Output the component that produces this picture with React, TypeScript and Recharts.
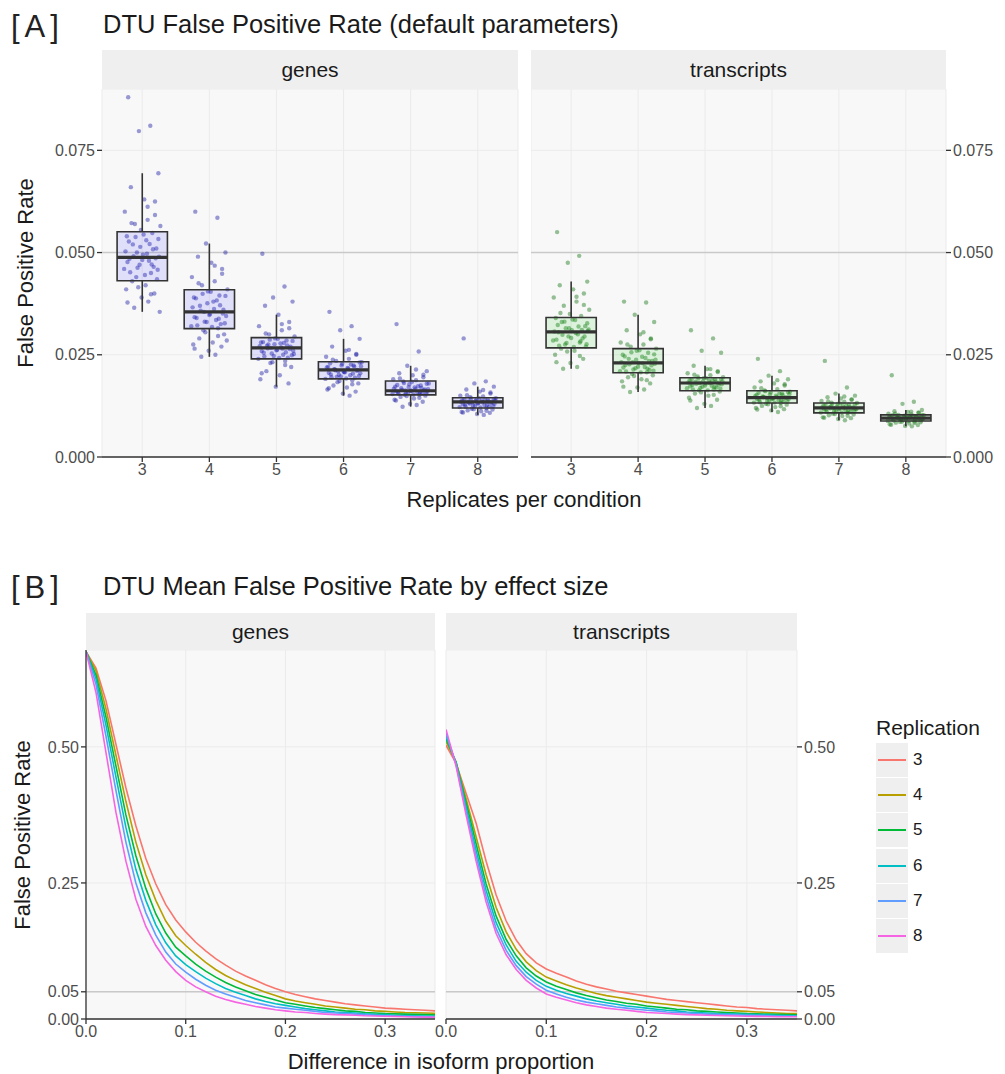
import React from "react";
import {
  ComposedChart,
  XAxis,
  YAxis,
  CartesianGrid,
  Scatter,
  ReferenceArea,
  ReferenceLine,
  Line,
} from "recharts";

const REPS = [3, 4, 5, 6, 7, 8];
const COLORS = ["#F8766D", "#B79F00", "#00BA38", "#00BFC4", "#619CFF", "#F564E3"];

// panel A box stats: [lower whisker, q1, median, q3, upper whisker]
const GENE_BOXES = [
  [0.0355, 0.0431, 0.0488, 0.0551, 0.0694],
  [0.0245, 0.0314, 0.0355, 0.0409, 0.0522],
  [0.0172, 0.024, 0.0267, 0.0292, 0.0348],
  [0.015, 0.0191, 0.0213, 0.0233, 0.0289],
  [0.0123, 0.0152, 0.0162, 0.0186, 0.0223],
  [0.0103, 0.012, 0.0135, 0.0145, 0.0172],
];
const TX_BOXES = [
  [0.0216, 0.0267, 0.0306, 0.0341, 0.0429],
  [0.0159, 0.0206, 0.023, 0.0265, 0.0348],
  [0.012, 0.0162, 0.0181, 0.0194, 0.0223],
  [0.011, 0.0132, 0.0145, 0.0162, 0.0199],
  [0.009, 0.0108, 0.012, 0.0132, 0.0155],
  [0.0075, 0.0088, 0.0095, 0.0103, 0.0115],
];

// horizontal jitter (in replicate units), one per point of a group
const JITTER = [
  -0.21, 0.12, -0.05, 0.24, -0.17, 0.03, 0.19, -0.26, 0.08, -0.11, 0.27, -0.02,
  0.15, -0.23, 0.06, -0.14, 0.21, -0.08, 0.01, 0.25, -0.19, 0.1, -0.04, 0.17,
  -0.27, 0.13, -0.09, 0.22, -0.15, 0.05, -0.24, 0.18, -0.01, 0.09, -0.12, 0.26,
  0.04, -0.18, 0.23, -0.07, 0.14, -0.22, 0.0, 0.2, -0.13, 0.07, -0.25, 0.16,
  -0.03, 0.11, -0.2, 0.24, -0.1, 0.02, -0.16, 0.19, -0.06, 0.13, -0.22, 0.08,
];

const GENE_POINTS = [
  [0.088, 0.081, 0.0797, 0.0694, 0.066, 0.063, 0.0625, 0.06, 0.058, 0.057, 0.0565, 0.0555, 0.0548, 0.054, 0.053, 0.052, 0.051, 0.05, 0.0495, 0.049, 0.0485, 0.048, 0.047, 0.0465, 0.046, 0.045, 0.044, 0.0435, 0.043, 0.042, 0.041, 0.04, 0.039, 0.038, 0.0365, 0.0355,
    0.0445, 0.0452, 0.0458, 0.0463, 0.0471, 0.0477, 0.0482, 0.0486, 0.0491, 0.0497, 0.0503, 0.0508, 0.0514, 0.0521, 0.0527, 0.0533, 0.0538, 0.0544, 0.0572, 0.0592, 0.0415, 0.0398, 0.0378, 0.0612],
  [0.06, 0.0585, 0.0522, 0.05, 0.049, 0.0475, 0.046, 0.044, 0.043, 0.042, 0.041, 0.0405, 0.0395, 0.039, 0.038, 0.037, 0.036, 0.0355, 0.035, 0.0345, 0.034, 0.0335, 0.033, 0.0325, 0.032, 0.0315, 0.031, 0.03, 0.029, 0.028, 0.0275, 0.027, 0.026, 0.025, 0.0245, 0.0285,
    0.0318, 0.0322, 0.0327, 0.0331, 0.0338, 0.0342, 0.0347, 0.0351, 0.0358, 0.0362, 0.0366, 0.0371, 0.0376, 0.0383, 0.0388, 0.0394, 0.0399, 0.0404, 0.0425, 0.0448, 0.0305, 0.0296, 0.0265, 0.0468],
  [0.0497, 0.0417, 0.039, 0.038, 0.037, 0.0348, 0.033, 0.032, 0.031, 0.03, 0.0295, 0.029, 0.0285, 0.028, 0.0278, 0.0272, 0.027, 0.0267, 0.0262, 0.026, 0.0255, 0.025, 0.0247, 0.0243, 0.024, 0.0235, 0.023, 0.022, 0.021, 0.02, 0.019, 0.018, 0.0172, 0.0265, 0.0275, 0.0252,
    0.0242, 0.0246, 0.0249, 0.0253, 0.0256, 0.0259, 0.0261, 0.0264, 0.0266, 0.0268, 0.0271, 0.0273, 0.0276, 0.0279, 0.0281, 0.0284, 0.0287, 0.0289, 0.0302, 0.0315, 0.0232, 0.0225, 0.0205, 0.0325],
  [0.0355, 0.032, 0.031, 0.0289, 0.027, 0.026, 0.025, 0.0245, 0.024, 0.0235, 0.0232, 0.0228, 0.0224, 0.022, 0.0218, 0.0215, 0.0213, 0.021, 0.0208, 0.0205, 0.0202, 0.02, 0.0197, 0.0194, 0.0191, 0.0188, 0.0183, 0.018, 0.0175, 0.017, 0.0165, 0.016, 0.0155, 0.015, 0.0212, 0.0222,
    0.0192, 0.0195, 0.0198, 0.0201, 0.0204, 0.0206, 0.0209, 0.0211, 0.0214, 0.0216, 0.0219, 0.0221, 0.0224, 0.0226, 0.0229, 0.0231, 0.0196, 0.0207, 0.0238, 0.0252, 0.0186, 0.0178, 0.0168, 0.0262],
  [0.0325, 0.0258, 0.0223, 0.021, 0.0205, 0.02, 0.0195, 0.019, 0.0188, 0.0185, 0.018, 0.0178, 0.0175, 0.0172, 0.017, 0.0168, 0.0165, 0.0163, 0.0162, 0.016, 0.0159, 0.0158, 0.0157, 0.0155, 0.0154, 0.0153, 0.0152, 0.015, 0.0147, 0.0143, 0.014, 0.0135, 0.013, 0.0127, 0.0123, 0.0166,
    0.0153, 0.0155, 0.0156, 0.0158, 0.0159, 0.0161, 0.0162, 0.0163, 0.0164, 0.0166, 0.0167, 0.0169, 0.0171, 0.0173, 0.0176, 0.0179, 0.0181, 0.0184, 0.0192, 0.0201, 0.0149, 0.0145, 0.0138, 0.0214],
  [0.029, 0.0185, 0.018, 0.0172, 0.0165, 0.016, 0.0155, 0.015, 0.0148, 0.0146, 0.0144, 0.0142, 0.014, 0.0138, 0.0137, 0.0136, 0.0135, 0.0134, 0.0132, 0.013, 0.0128, 0.0127, 0.0125, 0.0123, 0.0122, 0.012, 0.0118, 0.0116, 0.0114, 0.0112, 0.011, 0.0108, 0.0105, 0.0103, 0.0131, 0.0139,
    0.0121, 0.0123, 0.0124, 0.0126, 0.0128, 0.0129, 0.0131, 0.0132, 0.0133, 0.0134, 0.0135, 0.0136, 0.0137, 0.0139, 0.0141, 0.0142, 0.0143, 0.0144, 0.0151, 0.0158, 0.0117, 0.0113, 0.0109, 0.0164],
];
const TX_POINTS = [
  [0.055, 0.0492, 0.0475, 0.0429, 0.042, 0.041, 0.04, 0.039, 0.038, 0.037, 0.036, 0.035, 0.0345, 0.034, 0.0335, 0.033, 0.032, 0.0315, 0.031, 0.0308, 0.0305, 0.03, 0.0295, 0.029, 0.0285, 0.028, 0.0275, 0.027, 0.0265, 0.026, 0.025, 0.024, 0.023, 0.022, 0.0216, 0.0312,
    0.0269, 0.0272, 0.0276, 0.0279, 0.0283, 0.0287, 0.0291, 0.0295, 0.0299, 0.0303, 0.0307, 0.0311, 0.0315, 0.0319, 0.0323, 0.0327, 0.0331, 0.0336, 0.0352, 0.0372, 0.0258, 0.0247, 0.0232, 0.0392],
  [0.038, 0.0378, 0.0348, 0.033, 0.031, 0.03, 0.029, 0.028, 0.0275, 0.027, 0.0265, 0.026, 0.0255, 0.025, 0.0245, 0.024, 0.0235, 0.0232, 0.023, 0.0228, 0.0225, 0.022, 0.0217, 0.0213, 0.021, 0.0207, 0.0203, 0.02, 0.0195, 0.019, 0.0185, 0.018, 0.017, 0.0165, 0.0159, 0.0238,
    0.0207, 0.0209, 0.0211, 0.0214, 0.0216, 0.0219, 0.0221, 0.0224, 0.0227, 0.0229, 0.0232, 0.0235, 0.0238, 0.0242, 0.0246, 0.0251, 0.0256, 0.0261, 0.0275, 0.0288, 0.0198, 0.0188, 0.0172, 0.0305],
  [0.031, 0.029, 0.026, 0.0255, 0.0223, 0.0215, 0.021, 0.0205, 0.02, 0.0197, 0.0195, 0.0193, 0.019, 0.0188, 0.0186, 0.0184, 0.0182, 0.0181, 0.018, 0.0178, 0.0176, 0.0174, 0.0172, 0.017, 0.0168, 0.0165, 0.0163, 0.016, 0.0155, 0.015, 0.0145, 0.014, 0.013, 0.0125, 0.012, 0.0185,
    0.0163, 0.0165, 0.0167, 0.0169, 0.0171, 0.0173, 0.0175, 0.0177, 0.0179, 0.0181, 0.0182, 0.0184, 0.0185, 0.0187, 0.0189, 0.0191, 0.0192, 0.0193, 0.0201, 0.0208, 0.0158, 0.0152, 0.0138, 0.0215],
  [0.024, 0.021, 0.0199, 0.019, 0.0185, 0.018, 0.0175, 0.017, 0.0166, 0.0163, 0.016, 0.0158, 0.0155, 0.0152, 0.015, 0.0148, 0.0146, 0.0145, 0.0144, 0.0142, 0.014, 0.0139, 0.0137, 0.0135, 0.0133, 0.0132, 0.013, 0.0128, 0.0125, 0.0122, 0.012, 0.0117, 0.0114, 0.011, 0.0147, 0.0153,
    0.0133, 0.0134, 0.0136, 0.0137, 0.0139, 0.0141, 0.0142, 0.0144, 0.0146, 0.0147, 0.0149, 0.0151, 0.0153, 0.0155, 0.0157, 0.0159, 0.0161, 0.0143, 0.0168, 0.0178, 0.0129, 0.0124, 0.0116, 0.0188],
  [0.0235, 0.017, 0.0155, 0.015, 0.0146, 0.0143, 0.014, 0.0137, 0.0135, 0.0133, 0.0132, 0.013, 0.0128, 0.0126, 0.0124, 0.0122, 0.0121, 0.012, 0.0119, 0.0118, 0.0116, 0.0114, 0.0112, 0.011, 0.0109, 0.0108, 0.0106, 0.0104, 0.0102, 0.01, 0.0097, 0.0095, 0.0093, 0.009, 0.0123, 0.0117,
    0.0109, 0.011, 0.0111, 0.0113, 0.0115, 0.0116, 0.0117, 0.0118, 0.0119, 0.012, 0.0121, 0.0122, 0.0123, 0.0125, 0.0127, 0.0129, 0.013, 0.0131, 0.0136, 0.0141, 0.0105, 0.0101, 0.0096, 0.0148],
  [0.02, 0.0135, 0.013, 0.0115, 0.0112, 0.011, 0.0108, 0.0106, 0.0104, 0.0103, 0.0102, 0.0101, 0.01, 0.0099, 0.0098, 0.0097, 0.0096, 0.0095, 0.0094, 0.0093, 0.0092, 0.0091, 0.009, 0.0089, 0.0088, 0.0087, 0.0086, 0.0085, 0.0084, 0.0082, 0.008, 0.0078, 0.0076, 0.0075, 0.0096, 0.0094,
    0.0088, 0.0089, 0.009, 0.0091, 0.0092, 0.0093, 0.0094, 0.0095, 0.0096, 0.0097, 0.0098, 0.0099, 0.01, 0.0101, 0.0102, 0.0103, 0.0094, 0.0097, 0.0106, 0.0109, 0.0086, 0.0083, 0.0079, 0.0111],
];

// panel B: mean FPR vs difference in isoform proportion
const DIFF = [
  0, 0.01, 0.02, 0.03, 0.04, 0.05, 0.06, 0.07, 0.08, 0.09, 0.1, 0.11, 0.12, 0.13,
  0.14, 0.15, 0.16, 0.17, 0.18, 0.19, 0.2, 0.21, 0.22, 0.23, 0.24, 0.25, 0.26,
  0.27, 0.28, 0.29, 0.3, 0.31, 0.32, 0.33, 0.34, 0.35,
];
const GENE_CURVES = [
  [0.675, 0.645, 0.585, 0.505, 0.425, 0.355, 0.295, 0.248, 0.21, 0.182, 0.16, 0.141, 0.125, 0.111, 0.099, 0.088, 0.079, 0.071, 0.063, 0.056, 0.05, 0.045, 0.041, 0.037, 0.034, 0.031, 0.028, 0.026, 0.024, 0.022, 0.02, 0.019, 0.018, 0.017, 0.016, 0.015],
  [0.675, 0.64, 0.57, 0.485, 0.4, 0.325, 0.265, 0.218, 0.18, 0.153, 0.135, 0.119, 0.104, 0.091, 0.08, 0.071, 0.063, 0.056, 0.049, 0.043, 0.037, 0.033, 0.03, 0.027, 0.024, 0.022, 0.02, 0.018, 0.017, 0.015, 0.014, 0.013, 0.012, 0.0115, 0.011, 0.0105],
  [0.675, 0.632, 0.555, 0.465, 0.375, 0.3, 0.24, 0.193, 0.158, 0.132, 0.116, 0.101, 0.088, 0.077, 0.067, 0.059, 0.052, 0.045, 0.04, 0.035, 0.03, 0.027, 0.024, 0.021, 0.019, 0.017, 0.015, 0.014, 0.012, 0.011, 0.01, 0.0095, 0.009, 0.0085, 0.008, 0.0075],
  [0.675, 0.625, 0.54, 0.445, 0.352, 0.275, 0.218, 0.173, 0.14, 0.116, 0.1, 0.087, 0.075, 0.065, 0.056, 0.049, 0.043, 0.037, 0.032, 0.028, 0.025, 0.022, 0.019, 0.017, 0.015, 0.013, 0.012, 0.011, 0.0095, 0.0085, 0.008, 0.007, 0.0065, 0.006, 0.0055, 0.005],
  [0.675, 0.615, 0.52, 0.42, 0.325, 0.25, 0.195, 0.154, 0.123, 0.101, 0.086, 0.073, 0.062, 0.053, 0.046, 0.04, 0.034, 0.03, 0.026, 0.022, 0.02, 0.018, 0.016, 0.014, 0.012, 0.011, 0.01, 0.009, 0.008, 0.007, 0.006, 0.0055, 0.005, 0.0045, 0.004, 0.004],
  [0.675, 0.6, 0.49, 0.38, 0.29, 0.22, 0.17, 0.135, 0.108, 0.087, 0.071, 0.059, 0.05, 0.042, 0.036, 0.031, 0.027, 0.023, 0.02, 0.017, 0.015, 0.013, 0.012, 0.01, 0.009, 0.008, 0.0075, 0.007, 0.006, 0.0055, 0.005, 0.0045, 0.004, 0.0037, 0.0034, 0.003],
];
const TX_CURVES = [
  [0.503, 0.47, 0.415, 0.36, 0.29, 0.228, 0.18, 0.145, 0.12, 0.103, 0.092, 0.084, 0.077, 0.07, 0.064, 0.059, 0.055, 0.051, 0.048, 0.045, 0.042, 0.039, 0.036, 0.034, 0.032, 0.03, 0.028, 0.026, 0.024, 0.022, 0.021, 0.019, 0.018, 0.017, 0.016, 0.015],
  [0.51, 0.472, 0.405, 0.335, 0.265, 0.205, 0.16, 0.128, 0.105, 0.089, 0.077, 0.07, 0.063, 0.057, 0.052, 0.047, 0.043, 0.04, 0.037, 0.034, 0.031, 0.029, 0.027, 0.025, 0.023, 0.021, 0.019, 0.018, 0.016, 0.015, 0.014, 0.013, 0.012, 0.011, 0.01, 0.01],
  [0.515, 0.472, 0.398, 0.322, 0.248, 0.189, 0.146, 0.116, 0.094, 0.079, 0.068, 0.06, 0.054, 0.048, 0.043, 0.039, 0.035, 0.032, 0.029, 0.027, 0.024, 0.022, 0.02, 0.018, 0.017, 0.015, 0.014, 0.013, 0.012, 0.011, 0.01, 0.0095, 0.009, 0.0085, 0.008, 0.0075],
  [0.52, 0.47, 0.39, 0.31, 0.236, 0.177, 0.136, 0.106, 0.086, 0.071, 0.06, 0.053, 0.047, 0.042, 0.037, 0.033, 0.03, 0.027, 0.024, 0.022, 0.02, 0.018, 0.016, 0.015, 0.013, 0.012, 0.011, 0.01, 0.0095, 0.009, 0.0085, 0.008, 0.0075, 0.007, 0.0065, 0.006],
  [0.525, 0.468, 0.382, 0.3, 0.225, 0.166, 0.126, 0.098, 0.078, 0.064, 0.053, 0.046, 0.04, 0.035, 0.031, 0.028, 0.025, 0.022, 0.02, 0.018, 0.016, 0.015, 0.013, 0.012, 0.011, 0.01, 0.009, 0.0085, 0.008, 0.0075, 0.007, 0.0065, 0.006, 0.0055, 0.005, 0.005],
  [0.532, 0.465, 0.375, 0.29, 0.215, 0.157, 0.118, 0.091, 0.071, 0.057, 0.046, 0.04, 0.035, 0.03, 0.026, 0.023, 0.02, 0.018, 0.016, 0.014, 0.012, 0.011, 0.01, 0.009, 0.008, 0.0075, 0.007, 0.0065, 0.006, 0.0055, 0.005, 0.0048, 0.0045, 0.0042, 0.004, 0.004],
];

const FONT = "'Liberation Sans', Arial, Helvetica, sans-serif";
const TICK = { fill: "#4d4d4d", fontSize: 16, fontFamily: FONT };
const AXIS = { stroke: "#333", strokeWidth: 1.3 };
const BOX_HALF = 0.375;
const PAD = 16; // extra room so edge tick labels are not clipped

function BoxPanel({ boxes, points, fill, dot, side, left }) {
  const isLeft = side === "left";
  const scatter = points.flatMap((vals, i) =>
    vals.map((v, j) => ({ x: REPS[i] + JITTER[j % JITTER.length], y: v }))
  );
  return (
    <div style={{ position: "absolute", left, top: 89 }}>
      <ComposedChart
        width={isLeft ? 520 : 474}
        height={398}
        margin={{ top: 0, right: isLeft ? 2 : 0, bottom: 0, left: 0 }}
      >
        <CartesianGrid fill="#f8f8f8" stroke="#ebebeb" strokeWidth={1} />
        <XAxis
          type="number"
          dataKey="x"
          domain={[2.4, 8.6]}
          ticks={REPS}
          interval={0}
          allowDataOverflow
          height={30}
          tick={TICK}
          tickSize={5}
          tickLine={AXIS}
          axisLine={AXIS}
        />
        <YAxis
          type="number"
          dataKey="y"
          orientation={side}
          domain={[0, 0.09]}
          ticks={[0, 0.025, 0.05, 0.075]}
          allowDataOverflow
          width={isLeft ? 102 : 59}
          tick={TICK}
          tickSize={5}
          tickLine={AXIS}
          axisLine={false}
          tickFormatter={(v) => v.toFixed(3)}
        />
        <ReferenceLine y={0.05} stroke="#c9c9c9" strokeWidth={1.4} />
        <Scatter
          data={scatter}
          isAnimationActive={false}
          shape={(p) => (
            <circle cx={p.cx} cy={p.cy} r={2.2} fill={dot} fillOpacity={0.42} />
          )}
        />
        {boxes.map(([lo, q1, med, q3, hi], i) => (
          <ReferenceArea
            key={"a" + i}
            x1={REPS[i] - BOX_HALF}
            x2={REPS[i] + BOX_HALF}
            y1={q1}
            y2={q3}
            fill={fill}
            fillOpacity={0.13}
            stroke="#333"
            strokeWidth={1.6}
            zIndex={700}
          />
        ))}
        {boxes.map(([lo, q1, med, q3, hi], i) => (
          <ReferenceLine
            key={"w1" + i}
            segment={[{ x: REPS[i], y: lo }, { x: REPS[i], y: q1 }]}
            stroke="#333"
            strokeWidth={1.6}
            zIndex={700}
          />
        ))}
        {boxes.map(([lo, q1, med, q3, hi], i) => (
          <ReferenceLine
            key={"w2" + i}
            segment={[{ x: REPS[i], y: q3 }, { x: REPS[i], y: hi }]}
            stroke="#333"
            strokeWidth={1.6}
            zIndex={700}
          />
        ))}
        {boxes.map(([lo, q1, med, q3, hi], i) => (
          <ReferenceLine
            key={"m" + i}
            segment={[{ x: REPS[i] - BOX_HALF, y: med }, { x: REPS[i] + BOX_HALF, y: med }]}
            stroke="#333"
            strokeWidth={3.2}
            zIndex={700}
          />
        ))}
      </ComposedChart>
    </div>
  );
}

function LinePanel({ curves, side, left }) {
  const isLeft = side === "left";
  const rows = DIFF.map((x, i) => {
    const row = { x };
    REPS.forEach((r, k) => (row["r" + r] = curves[k][i]));
    return row;
  });
  return (
    <div style={{ position: "absolute", left: isLeft ? left : left - PAD, top: 650 }}>
      <ComposedChart
        width={isLeft ? 437 : 411 + PAD}
        height={399}
        data={rows}
        margin={{ top: 0, right: isLeft ? 2 : 0, bottom: 0, left: isLeft ? 0 : PAD }}
      >
        <CartesianGrid fill="#f8f8f8" stroke="#ebebeb" strokeWidth={1} />
        <XAxis
          type="number"
          dataKey="x"
          domain={[0, 0.35]}
          ticks={[0, 0.1, 0.2, 0.3]}
          interval={0}
          allowDataOverflow
          height={30}
          tick={TICK}
          tickSize={5}
          tickLine={AXIS}
          axisLine={AXIS}
          tickFormatter={(v) => v.toFixed(1)}
        />
        <YAxis
          type="number"
          orientation={side}
          domain={[0, 0.678]}
          ticks={[0, 0.05, 0.25, 0.5]}
          allowDataOverflow
          width={isLeft ? 86 : 60}
          tick={TICK}
          tickSize={5}
          tickLine={AXIS}
          axisLine={isLeft ? AXIS : false}
          tickFormatter={(v) => v.toFixed(2)}
        />
        <ReferenceLine y={0.05} stroke="#c9c9c9" strokeWidth={1.4} />
        {REPS.map((r, k) => (
          <Line
            key={r}
            type="linear"
            dataKey={"r" + r}
            stroke={COLORS[k]}
            strokeWidth={1.6}
            dot={false}
            isAnimationActive={false}
          />
        ))}
      </ComposedChart>
    </div>
  );
}

function Strip({ left, top, width, height, label }) {
  return (
    <div
      style={{
        position: "absolute",
        left,
        top,
        width,
        height,
        background: "#efefef",
        color: "#1a1a1a",
        fontSize: 21,
        display: "flex",
        alignItems: "center",
        justifyContent: "center",
      }}
    >
      {label}
    </div>
  );
}

function Text({ x, y, size, children, rotate, anchor = "left", color = "#1a1a1a", spacing = 0 }) {
  const tx = anchor === "center" ? "-50%" : "0";
  return (
    <div
      style={{
        position: "absolute",
        left: x,
        top: y,
        fontSize: size,
        color,
        whiteSpace: "nowrap",
        lineHeight: 1,
        letterSpacing: spacing,
        transform: `translate(${tx}, -50%)${rotate ? " rotate(-90deg)" : ""}`,
      }}
    >
      {children}
    </div>
  );
}

export default function App() {
  return (
    <div
      style={{
        position: "relative",
        width: 1005,
        height: 1074,
        background: "#fff",
        fontFamily: FONT,
        overflow: "hidden",
      }}
    >
      <style>{"body{margin:0}"}</style>

      <Text x={11} y={26} size={31} color="#222" spacing={5}>[A]</Text>
      <Text x={103} y={25} size={25.5}>DTU False Positive Rate (default parameters)</Text>
      <Strip left={102} top={50} width={416} height={39} label="genes" />
      <Strip left={531} top={50} width={415} height={39} label="transcripts" />
      <BoxPanel boxes={GENE_BOXES} points={GENE_POINTS} fill="#3333ff" dot="#1010a0" side="left" left={0} />
      <BoxPanel boxes={TX_BOXES} points={TX_POINTS} fill="#22cc22" dot="#0a700a" side="right" left={531} />
      <Text x={26} y={273} size={22} anchor="center" rotate>False Positive Rate</Text>
      <Text x={524} y={500} size={22} anchor="center">Replicates per condition</Text>

      <Text x={11} y={587} size={31} color="#222" spacing={5}>[B]</Text>
      <Text x={103} y={587} size={25.5}>DTU Mean False Positive Rate by effect size</Text>
      <Strip left={86} top={613} width={349} height={37} label="genes" />
      <Strip left={446} top={613} width={351} height={37} label="transcripts" />
      <LinePanel curves={GENE_CURVES} side="left" left={0} />
      <LinePanel curves={TX_CURVES} side="right" left={446} />
      <Text x={23} y={835} size={22} anchor="center" rotate>False Positive Rate</Text>
      <Text x={441} y={1062} size={22} anchor="center">Difference in isoform proportion</Text>

      <Text x={876} y={727} size={21}>Replication</Text>
      {REPS.map((r, k) => (
        <div key={r} style={{ position: "absolute", left: 876, top: 743 + k * 35.2, height: 34, display: "flex", alignItems: "center" }}>
          <div style={{ width: 32, height: 34, background: "#efefef", position: "relative" }}>
            <div style={{ position: "absolute", left: 2, right: 2, top: 16, height: 2, background: COLORS[k] }} />
          </div>
          <span style={{ marginLeft: 5, fontSize: 17, color: "#1a1a1a" }}>{r}</span>
        </div>
      ))}
    </div>
  );
}
